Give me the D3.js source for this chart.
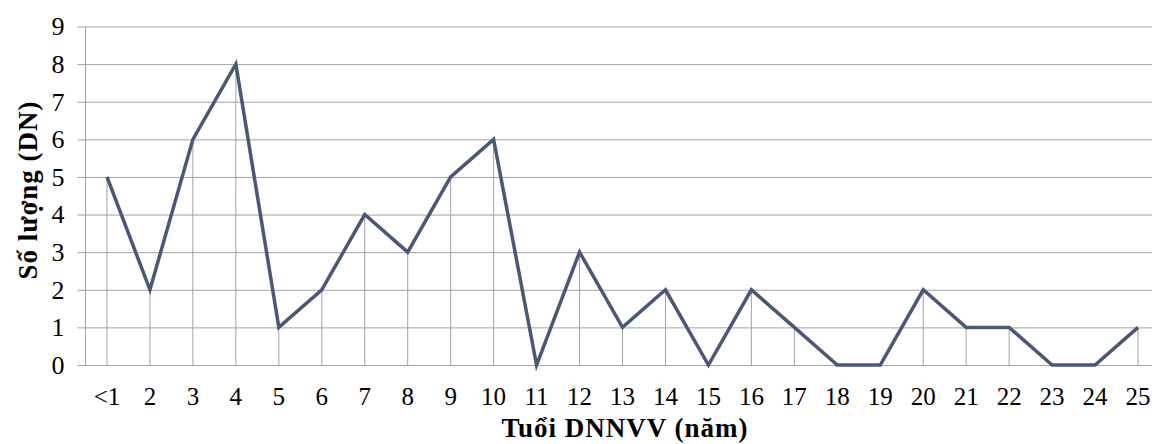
<!DOCTYPE html>
<html>
<head>
<meta charset="utf-8">
<script src="https://cdn.jsdelivr.net/npm/d3@7"></script>
<style>
  body { margin: 0; background: #fff; }
  text { font-family: "Liberation Serif", "Times New Roman", serif; fill: #000; }
</style>
</head>
<body>
<script>
  // categories and values
  const ages = ['<1','2','3','4','5','6','7','8','9','10','11','12','13','14','15','16','17','18','19','20','21','22','23','24','25'];
  const counts = [5, 2, 6, 8, 1, 2, 4, 3, 5, 6, 0, 3, 1, 2, 0, 2, 1, 0, 0, 2, 1, 1, 0, 0, 1];
  const yTicks = [0, 1, 2, 3, 4, 5, 6, 7, 8, 9];

  const W = 1152, H = 444;
  const margin = { top: 26.5, left: 85.5, bottom: 79 };
  const bandW = 42.96;
  const plotH = H - margin.bottom - margin.top;

  const data = ages.map((a, i) => ({ age: a, n: counts[i] }));

  const x = d3.scaleBand()
    .domain(ages)
    .range([margin.left, margin.left + bandW * ages.length]);

  const y = d3.scaleLinear()
    .domain([0, 9])
    .range([margin.top + plotH, margin.top]);

  const svg = d3.select('body').append('svg')
    .attr('width', W)
    .attr('height', H);

  // horizontal gridlines + ticks
  svg.append('g')
    .attr('transform', `translate(${margin.left},0)`)
    .call(d3.axisLeft(y).tickValues(yTicks).tickSize(-(W - margin.left)).tickPadding(21))
    .call(g => g.select('.domain').remove())
    .call(g => g.selectAll('.tick line').attr('x1', -8).attr('stroke', '#a3a3a3'))
    .call(g => g.selectAll('.tick text').style('font-size', '26px'));

  // y axis line
  svg.append('line')
    .attr('x1', margin.left).attr('x2', margin.left)
    .attr('y1', y(9)).attr('y2', y(0))
    .attr('stroke', '#a3a3a3');

  // x tick labels
  svg.append('g')
    .attr('transform', `translate(0,${y(0)})`)
    .call(d3.axisBottom(x).tickSize(0).tickPadding(22))
    .call(g => g.select('.domain').remove())
    .call(g => g.selectAll('.tick text').style('font-size', '25px'));

  // drop lines
  svg.append('g').selectAll('line')
    .data(data)
    .join('line')
      .attr('x1', d => x(d.age) + x.bandwidth() / 2)
      .attr('x2', d => x(d.age) + x.bandwidth() / 2)
      .attr('y1', d => y(d.n))
      .attr('y2', y(0))
      .attr('stroke', '#a3a3a3')
      .attr('stroke-width', 1);

  // the series line
  const line = d3.line()
    .x(d => x(d.age) + x.bandwidth() / 2)
    .y(d => y(d.n));

  svg.append('path')
    .datum(data)
    .attr('fill', 'none')
    .attr('stroke', '#4a5875')
    .attr('stroke-width', 3.5)
    .attr('d', line);

  // axis titles
  svg.append('text')
    .attr('x', 625)
    .attr('y', 437)
    .attr('text-anchor', 'middle')
    .style('font-size', '27px')
    .style('font-weight', 'bold')
    .style('letter-spacing', '1px')
    .text('Tuổi DNNVV (năm)');

  svg.append('text')
    .attr('transform', 'translate(37,190) rotate(-90)')
    .attr('text-anchor', 'middle')
    .style('font-size', '27px')
    .style('font-weight', 'bold')
    .style('letter-spacing', '1px')
    .text('Số lượng (DN)');
</script>
</body>
</html>
